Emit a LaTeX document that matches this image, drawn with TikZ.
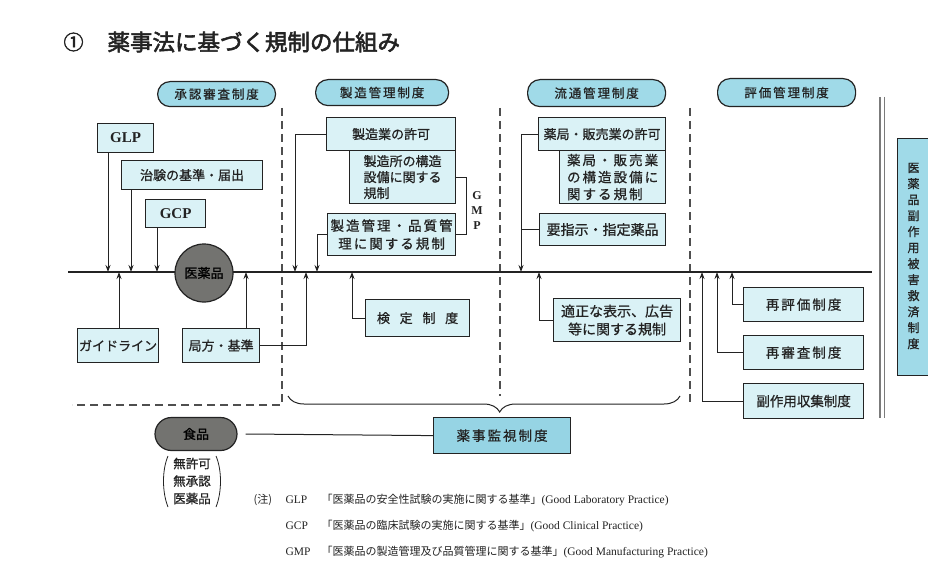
\documentclass[tikz,border=0pt]{standalone}
\usepackage{fontspec}
\setmainfont{Liberation Serif}
\newfontfamily\jp{Noto Sans CJK JP}[FakeBold=0.8]
\newfontfamily\jps{Noto Sans CJK JP}[FakeBold=0.8,LetterSpace=15]
\newfontfamily\jpt{Noto Sans CJK JP}[FakeBold=2.5]
\newfontfamily\jpn{Noto Sans CJK JP}
\usetikzlibrary{arrows.meta,decorations.pathreplacing,shapes.misc}
\definecolor{boxc}{RGB}{218,242,246}
\definecolor{headc}{RGB}{160,218,232}
\definecolor{kanc}{RGB}{150,212,228}
\definecolor{ink}{RGB}{35,35,35}
\definecolor{darkc}{RGB}{115,115,112}
\tikzset{
  box/.style={draw=ink, line width=1.2pt, fill=boxc, inner sep=0pt, text=ink, align=center, font=\jp\fontsize{13}{16}\selectfont},
  head/.style={box, fill=headc, rounded corners=12.5pt, font=\jps\fontsize{12.5}{15}\selectfont},
  arr/.style={draw=ink, line width=1pt, -{Stealth[length=7pt,width=5pt]}},
  ln/.style={draw=ink, line width=1pt},
  dsh/.style={draw=ink!80, line width=1.3pt, dash pattern=on 8pt off 5pt},
  lat/.style={font=\rmfamily\bfseries\fontsize{15}{18}\selectfont},
}
\newcommand\bx[7][]{\node[box,anchor=north west,minimum width={(#5-#3)*1pt},minimum height={(#6-#4)*1pt},#1] (#2) at (#3,#4) {#7};}
\begin{document}
\begin{tikzpicture}[x=1pt,y=-1pt]
\fill[white] (0,0) rectangle (928,580);
\useasboundingbox (0,0) rectangle (928,580);

% title
\node[anchor=west, font=\jpt\fontsize{20}{24}\selectfont, text=ink] (num) at (60,42) {①};
\node[anchor=west, font=\jpt\fontsize{22.5}{26}\selectfont, text=ink] (title) at (104,42) {薬事法に基づく規制の仕組み};

% headers
\bx[head]{h1}{157}{81}{275}{106}{承認審査制度}
\bx[head]{h2}{315}{79}{448}{105}{製造管理制度}
\bx[head]{h3}{527}{79}{665}{106}{流通管理制度}
\bx[head]{h4}{717}{78}{855}{106}{評価管理制度}

% dashed separators
\draw[dsh] (282,108) -- (282,405) -- (72,405);
\draw[dsh] (500,108) -- (500,396);
\draw[dsh] (690,108) -- (690,405);

% main line
\coordinate (ML1) at (68,272);
\coordinate (ML2) at (872,272);
\draw[draw=ink, line width=1.4pt] (ML1) -- (ML2);
\foreach \n/\x in {gl/108, ch/131, gc/157, gd/119, kk/246, kk2/306, sk/295, sq/317, kt/352, yk/521, tk/539, fk/702, ss/717, rh/732}
  \coordinate (\n) at (\x,272);

% left section
\bx[lat]{GLP}{97}{123}{153}{152}{GLP}
\bx{chiken}{121}{160}{262}{189}{治験の基準・届出}
\bx[lat]{GCP}{145}{199}{205}{227}{GCP}
\node[circle, draw=ink, line width=1.2pt, fill=darkc, minimum size=58pt, inner sep=0pt] (iyaku) at (204,273) {};
\node[font=\jp\fontsize{13}{16}\selectfont] (iyakutext) at (iyaku.center) {\color{black}医薬品};
\bx{guide}{77}{328}{158}{362}{ガイドライン}
\bx{kyoku}{182}{328}{259}{362}{局方・基準}

% manufacturing section
\bx[align=left]{kozo}{349}{150}{455}{203}{製造所の構造\\設備に関する\\規制}
\bx{seizo}{326}{117}{455}{150}{製造業の許可}
\bx[font=\jps\fontsize{13.5}{18}\selectfont]{hinshitsu}{327}{213}{455}{255}{製造管理・品質管\\理に関する規制}
\node[font=\rmfamily\bfseries\fontsize{12}{15}\selectfont, align=center, text=ink] (gmp) at (477,211) {G\\M\\P};
\bx{kentei}{365}{299}{469}{336}{検\hspace{0.75em}定\hspace{0.75em}制\hspace{0.75em}度}

% distribution section
\bx[align=left, font=\jps\fontsize{13.5}{17}\selectfont]{yakozo}{559}{150}{665}{203}{薬局・販売業\\の構造設備に\\関する規制}
\bx{yakkyoku}{538}{117}{665}{150}{薬局・販売業の許可}
\bx[font=\jp\fontsize{14}{17}\selectfont]{yoshiji}{539}{213}{665}{245}{要指示・指定薬品}
\bx[font=\jp\fontsize{14}{18}\selectfont]{tekisei}{553}{298}{680}{341}{適正な表示、広告\\等に関する規制}

% evaluation section
\bx[font=\jps\fontsize{13.5}{16}\selectfont]{saihyoka}{743}{287}{863}{321}{再評価制度}
\bx[font=\jps\fontsize{13.5}{16}\selectfont]{saishinsa}{743}{335}{863}{369}{再審査制度}
\bx[font=\jp\fontsize{13.5}{16}\selectfont]{fukusayo}{743}{383}{863}{418}{副作用収集制度}

% right relief system
\draw[double=white, double distance=3pt, line width=1.1pt, draw=ink!60] (882,97) -- (882,418);
\bx[fill=headc]{kyusai}{897}{138}{932}{375}{}
\node[font=\jp\fontsize{12}{16}\selectfont, align=center, text=ink] (kyusaitext) at (913.5,256) {医\\薬\\品\\副\\作\\用\\被\\害\\救\\済\\制\\度};

% bottom
\draw[draw=ink, line width=1pt, decorate, decoration={brace, mirror, amplitude=16pt, aspect=0.54}] (288,396) -- (680,396);
\bx[fill=kanc, font=\jps\fontsize{13.5}{16}\selectfont]{kanshi}{433}{417}{570}{453}{薬事監視制度}
\node[draw=ink, line width=1.2pt, fill=darkc, rounded rectangle, minimum width=82pt, minimum height=33pt, inner sep=0pt] (shokuhin) at (196,434) {};
\node[font=\jp\fontsize{13}{16}\selectfont] (shokuhintext) at (shokuhin.center) {\color{black}食品};
\node[font=\jp\fontsize{12.5}{17.5}\selectfont, align=center, text=ink, inner sep=0pt] (mukyoka) at (192,481) {無許可\\無承認\\医薬品};
\draw[ln, line width=0.8pt] (168,456) .. controls (162,470) and (162,492) .. (168,507);
\draw[ln, line width=0.8pt] (216,456) .. controls (222,470) and (222,492) .. (216,507);

% connectors
\draw[arr] (gl |- GLP.south) -- (gl);
\draw[arr] (ch |- chiken.south) -- (ch);
\draw[arr] (gc |- GCP.south) -- (gc);
\draw[arr] (gd |- guide.north) -- (gd);
\draw[arr] (kk |- kyoku.north) -- (kk);
\draw[arr] (kyoku.east) -| (kk2);
\draw[arr] (seizo.west) -| (sk);
\draw[arr] (hinshitsu.west) -| (sq);
\draw[arr] (kentei.west) -| (kt);
\draw[arr] (yakkyoku.west) -| (yk);
\draw[ln] (yoshiji.west) -- (yk |- yoshiji.west);
\draw[arr] (tekisei.west) -| (tk);
\draw[arr] (saihyoka.west) -| (rh);
\draw[arr] (saishinsa.west) -| (ss);
\draw[arr] (fukusayo.west) -| (fk);
\draw[ln] (kozo.east) -- ++(10,0) |- (hinshitsu.east);
\draw[ln] ([xshift=8pt]shokuhin.east) -- (kanshi.west);

% notes
\node[anchor=west, font=\jpn\fontsize{11}{12}\selectfont, text=ink] (chu) at (250,500) {(注)};
\node[anchor=west, font=\rmfamily\fontsize{11.5}{13}\selectfont, text=ink] (nglp) at (282,500) {GLP};
\node[anchor=west, font=\rmfamily\fontsize{11.5}{13}\selectfont, text=ink] (ngcp) at (282,526) {GCP};
\node[anchor=west, font=\rmfamily\fontsize{11.5}{13}\selectfont, text=ink] (ngmp) at (282,552) {GMP};
\node[anchor=west, font=\rmfamily\fontsize{11.5}{13}\selectfont, text=ink] (tglp) at (318,500) {{\jpn\fontsize{11}{13}\selectfont 「医薬品の安全性試験の実施に関する基準」}(Good Laboratory Practice)};
\node[anchor=west, font=\rmfamily\fontsize{11.5}{13}\selectfont, text=ink] (tgcp) at (318,526) {{\jpn\fontsize{11}{13}\selectfont 「医薬品の臨床試験の実施に関する基準」}(Good Clinical Practice)};
\node[anchor=west, font=\rmfamily\fontsize{11.5}{13}\selectfont, text=ink] (tgmp) at (318,552) {{\jpn\fontsize{11}{13}\selectfont 「医薬品の製造管理及び品質管理に関する基準」}(Good Manufacturing Practice)};
\end{tikzpicture}
\end{document}
